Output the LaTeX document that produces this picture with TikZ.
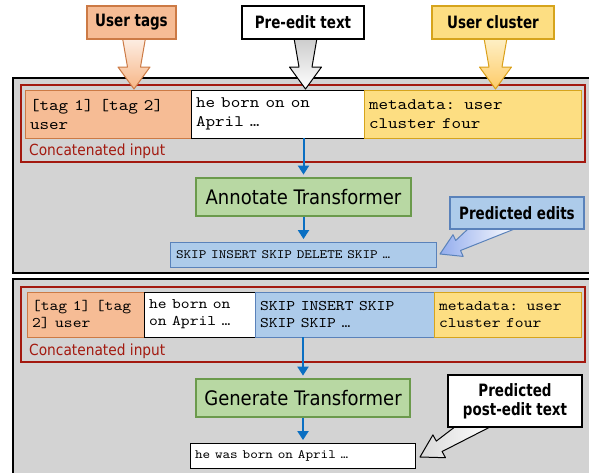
\documentclass[tikz,border=0pt]{standalone}
\usepackage{graphicx}
\usepackage{fontspec}
\setmainfont{DejaVu Sans Condensed}
\newfontfamily\headfont[FakeStretch=0.88]{DejaVu Sans Condensed}
\newfontfamily\codefont{lmmono10-regular.otf}
% typewriter line widened to the usual 0.6em advance
\newcommand\cw[1]{\scalebox{1.14}[1]{#1}}
\usetikzlibrary{arrows.meta,calc}

\definecolor{panelgray}{HTML}{D3D3D3}
\definecolor{tagfill}{HTML}{F6BC95}
\definecolor{tagline}{HTML}{CC7A45}
\definecolor{metafill}{HTML}{FDDE82}
\definecolor{metaline}{HTML}{D6A41C}
\definecolor{editfill}{HTML}{ADCBEA}
\definecolor{editline}{HTML}{5A82BA}
\definecolor{modelfill}{HTML}{B8D8A3}
\definecolor{modelline}{HTML}{6B9A4C}
\definecolor{concatred}{HTML}{A3190F}
\definecolor{flowblue}{HTML}{0A6FC2}

\tikzset{
  panel/.style={draw=black, line width=2pt, fill=panelgray, inner sep=0pt},
  frame/.style={draw=concatred, line width=2.4pt, inner sep=0pt},
  cellA/.style={inner xsep=5pt, inner ysep=0pt, align=left, line width=0.9pt,
    font=\codefont\fontsize{16}{19}\selectfont},
  cellB/.style={inner xsep=5pt, inner ysep=0pt, align=left, line width=0.9pt,
    font=\codefont\fontsize{14.7}{17}\selectfont},
  seqbox/.style={inner xsep=6pt, inner ysep=0pt, align=left, line width=0.9pt,
    font=\codefont\fontsize{12.7}{15}\selectfont},
  tagc/.style={draw=tagline, fill=tagfill},
  textc/.style={draw=black, fill=white},
  metac/.style={draw=metaline, fill=metafill},
  editc/.style={draw=editline, fill=editfill},
  concat/.style={anchor=base west, inner sep=0pt, text=concatred,
    font=\fontsize{15.3}{18}\selectfont},
  model/.style={draw=modelline, fill=modelfill, line width=1.8pt, inner sep=0pt,
    minimum height=38pt, font=\fontsize{20}{24}\selectfont},
  headlabel/.style={line width=1.8pt, inner sep=0pt, align=center,
    font=\headfont\bfseries\fontsize{17}{19}\selectfont},
  flow/.style={draw=flowblue, line width=2pt,
    -{Triangle[length=9pt,width=11pt]}, shorten >=2.5pt},
  pics/droparrow/.style n args={3}{code={
    \path[draw=#1, line width=1pt, line join=round, top color=#2, bottom color=#3]
      (-11.5,-1) -- (-6.5,28) -- (-16,28) -- (0,50) -- (16,28) -- (6.5,28)
      -- (11.5,-1) -- cycle;
  }},
}

\begin{document}
\begin{tikzpicture}[x=1pt, y=-1pt]
\useasboundingbox (0,0) rectangle (589,472);
\clip (0,0) rectangle (589,472);

% ---------- first stage: annotation ----------
\node[panel, minimum width=600pt, minimum height=195pt] (panel1) at (313,175.5) {};
\node[frame, minimum width=564pt, minimum height=77pt] (frame1) at (303,123.5) {};

\node[cellA, tagc, text width=156pt, minimum height=48pt] (tags1) at (108,114)
  {\cw{[tag 1] [tag 2]}\\\cw{user}};
\node[cellA, textc, text width=163pt, minimum height=48pt] (pre1) at (277.5,114)
  {\cw{he born on on}\\\cw{April …}};
\node[cellA, metac, text width=207pt, minimum height=48pt] (meta1) at (472.5,114)
  {\cw{metadata: user}\\\cw{cluster four}};
\node[concat] (cap1) at (29,155) {Concatenated input};

\node[model, minimum width=215pt] (ann) at (303.5,197) {Annotate Transformer};
\node[seqbox, editc, text width=254pt, minimum height=25pt] (edits) at (303,254.5)
  {\cw{SKIP INSERT SKIP DELETE SKIP …}};

\draw[flow] (pre1.south -| ann.north) -- (ann.north);
\draw[flow] (ann.south) -- (edits.north -| ann.south);

% ---------- second stage: generation ----------
\node[panel, minimum width=600pt, minimum height=210pt] (panel2) at (313,384) {};
\node[frame, minimum width=564pt, minimum height=75pt] (frame2) at (303,324.5) {};

\node[cellB, tagc, text width=107pt, minimum height=45pt] (tags2) at (85.5,314.5)
  {\cw{[tag 1] [tag}\\\cw{2] user}};
\node[cellB, textc, text width=101pt, minimum height=45pt] (pre2) at (199.5,314.5)
  {\cw{he born on}\\\cw{on April …}};
\node[cellB, editc, text width=169pt, minimum height=45pt] (edits2) at (344.5,314.5)
  {\cw{SKIP INSERT SKIP}\\\cw{SKIP SKIP …}};
\node[cellB, metac, text width=137pt, minimum height=45pt] (meta2) at (507.5,314.5)
  {\cw{metadata: user}\\\cw{cluster four}};
\node[concat] (cap2) at (29,355) {Concatenated input};

\node[model, minimum width=214pt] (gen) at (303,398) {Generate Transformer};
\node[seqbox, textc, inner xsep=5pt, text width=215pt, minimum height=25pt] (out) at (302.5,455.5)
  {\cw{he was born on April …}};

\draw[flow] (edits2.south -| gen.north) -- (gen.north);
\draw[flow] (gen.south) -- (out.north -| gen.south);

% ---------- block arrows from the inputs ----------
\pic at (134,39) {droparrow={tagline}{tagfill!25}{tagfill!90!orange}};
\pic at (305.5,39) {droparrow={black}{gray!40}{white}};
\pic at (495.5,39) {droparrow={metaline!90!orange}{metafill!45}{metafill!80!orange}};

% ---------- callout arrows for the outputs ----------
\path[draw=editline, line width=1pt, line join=round, left color=editfill!85!blue, right color=white]
  (469,228) -- (455.7,240.5) -- (453,234.7) -- (440,254) -- (463.2,256.4)
  -- (460.5,250.5) -- (517,228) -- cycle;
\path[draw=black, line width=1pt, line join=round, left color=gray!30, right color=white]
  (456,426) -- (436.3,441.1) -- (432.9,434.9) -- (420,457) -- (445.5,457.7)
  -- (442.1,451.5) -- (492,426) -- cycle;

% ---------- labels ----------
\node[headlabel, draw=tagline, fill=tagfill, minimum width=89pt, minimum height=33pt]
  (utag) at (131.5,22.5) {User tags};
\node[headlabel, draw=black, fill=white, minimum width=122pt, minimum height=33pt]
  (upre) at (303,22.5) {Pre-edit text};
\node[headlabel, draw=metaline, fill=metafill, minimum width=122pt, minimum height=33pt]
  (uclu) at (493,22.5) {User cluster};
\node[headlabel, draw=editline, fill=editfill, minimum width=134pt, minimum height=32pt]
  (pedits) at (517,213) {Predicted edits};
\node[headlabel, draw=black, fill=white, minimum width=134pt, minimum height=52pt]
  (ppost) at (515,401) {Predicted\\post-edit text};
\end{tikzpicture}
\end{document}
